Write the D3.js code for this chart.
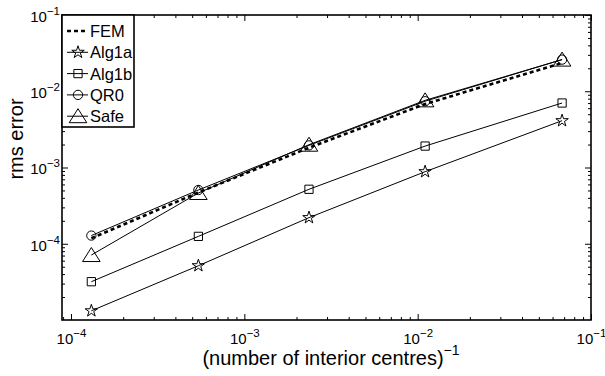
<!DOCTYPE html>
<html><head><meta charset="utf-8">
<script src="https://cdn.jsdelivr.net/npm/d3@7"></script>
<style>body{margin:0;background:#fff}svg{display:block;font-family:"Liberation Sans",Arial,sans-serif}</style>
</head><body>
<svg id="chart" width="605" height="376"></svg>
<script>
// ---- data ----
const xValues = [1.31e-4, 5.43e-4, 2.36e-3, 1.104e-2, 6.81e-2];
const femValues = [1.18e-4, 4.7e-4, 1.82e-3, 6.8e-3, 2.35e-2];
const alg1aValues = [1.32e-5, 5.15e-5, 2.20e-4, 8.81e-4, 4.11e-3];
const alg1bValues = [3.18e-5, 1.25e-4, 5.18e-4, 1.91e-3, 7.01e-3];
const qr0Values = [1.28e-4, 5.07e-4, 1.95e-3, 7.4e-3, 2.6e-2];
const safeValues = [7.11e-5, 4.63e-4, 1.99e-3, 7.6e-3, 2.6e-2];
const seriesNames = ["FEM", "Alg1a", "Alg1b", "QR0", "Safe"];
const xTickExps = [-4, -3, -2, -1];
const yTickExps = [-4, -3, -2, -1];
const xLabel = "(number of interior centres)";
const yLabel = "rms error";

const svg = d3.select("#chart");
const L = 62, R = 591, T = 15, B = 320;
const x = d3.scaleLog().domain([8.87e-5, 1e-1]).range([L, R]);
const y = d3.scaleLog().domain([1e-5, 1e-1]).range([B, T]);

function minors(lo, hi) {
  const out = [];
  for (let e = lo; e < hi; e++) for (let m = 2; m <= 9; m++) out.push(m * Math.pow(10, e));
  return out;
}
const xMin = minors(-5, -1).filter(v => v >= x.domain()[0] && v <= x.domain()[1]);
const yMin = minors(-5, -1).filter(v => v >= y.domain()[0] && v <= y.domain()[1]);
const xMaj = xTickExps.map(e => Math.pow(10, e));
const yMaj = yTickExps.map(e => Math.pow(10, e));

function styleAxis(g) {
  g.select(".domain").remove();
  g.selectAll("line").attr("stroke", "#000").attr("stroke-width", 1);
}
// minor ticks
svg.append("g").attr("transform", `translate(0,${B})`).call(d3.axisBottom(x).tickValues(xMin).tickSize(-3).tickFormat("")).call(styleAxis);
svg.append("g").attr("transform", `translate(0,${T})`).call(d3.axisTop(x).tickValues(xMin).tickSize(-3).tickFormat("")).call(styleAxis);
svg.append("g").attr("transform", `translate(${L},0)`).call(d3.axisLeft(y).tickValues(yMin).tickSize(-3).tickFormat("")).call(styleAxis);
svg.append("g").attr("transform", `translate(${R},0)`).call(d3.axisRight(y).tickValues(yMin).tickSize(-3).tickFormat("")).call(styleAxis);
// major ticks
const gx = svg.append("g").attr("transform", `translate(0,${B})`).call(d3.axisBottom(x).tickValues(xMaj).tickSize(-6)).call(styleAxis);
svg.append("g").attr("transform", `translate(0,${T})`).call(d3.axisTop(x).tickValues(xMaj).tickSize(-6).tickFormat("")).call(styleAxis);
const gy = svg.append("g").attr("transform", `translate(${L},0)`).call(d3.axisLeft(y).tickValues(yMaj).tickSize(-6)).call(styleAxis);
svg.append("g").attr("transform", `translate(${R},0)`).call(d3.axisRight(y).tickValues(yMaj).tickSize(-6).tickFormat("")).call(styleAxis);

function supLabel(sel) {
  sel.each(function(d) {
    const t = d3.select(this);
    const e = Math.round(Math.log10(d));
    t.text(null).attr("font-size", 15).attr("fill", "#000").attr("font-family", null);
    t.append("tspan").text("10");
    t.append("tspan").attr("font-size", 11.5).attr("dy", "-0.6em").text("\u2212" + Math.abs(e));
  });
}
gx.selectAll("text").call(supLabel).attr("dy", null).attr("y", 24).attr("text-anchor", "middle");
gy.selectAll("text").call(supLabel).attr("dy", "0.42em").attr("x", -2).attr("text-anchor", "end");

// box
svg.append("rect").attr("x", L).attr("y", T).attr("width", R - L).attr("height", B - T)
  .attr("fill", "none").attr("stroke", "#000").attr("stroke-width", 1.6);

// series
const line = d3.line().x((d, i) => x(xValues[i])).y(d => y(d));
const starPath = d3.symbol().type(d3.symbolStar).size(48)();
const tri = "M0,-7.5L8.8,6.5L-8.8,6.5Z";
const markerDefs = {
  Alg1a: { path: starPath },
  Alg1b: { path: d3.symbol().type(d3.symbolSquare).size(68)() },
  QR0: { path: d3.symbol().type(d3.symbolCircle).size(68)() },
  Safe: { path: tri }
};
const seriesData = { FEM: femValues, Alg1a: alg1aValues, Alg1b: alg1bValues, QR0: qr0Values, Safe: safeValues };

seriesNames.forEach(name => {
  const vals = seriesData[name];
  if (name === "FEM") {
    svg.append("path").attr("d", line(vals)).attr("fill", "none").attr("stroke", "#000")
      .attr("stroke-width", 2.6).attr("stroke-dasharray", "4,3");
  } else {
    svg.append("path").attr("d", line(vals)).attr("fill", "none").attr("stroke", "#000").attr("stroke-width", 1);
    svg.selectAll(null).data(vals).enter().append("path")
      .attr("d", markerDefs[name].path)
      .attr("transform", (d, i) => `translate(${x(xValues[i])},${y(d)})`)
      .attr("fill", "none").attr("stroke", "#000").attr("stroke-width", 1);
  }
});

// legend
const lg = svg.append("g");
lg.append("rect").attr("x", L).attr("y", T).attr("width", 72).attr("height", 112)
  .attr("fill", "#fff").attr("stroke", "#000").attr("stroke-width", 1.6);
seriesNames.forEach((name, i) => {
  const cy = 31 + i * 21.3;
  const ln = lg.append("line").attr("x1", 67).attr("x2", 88).attr("y1", cy).attr("y2", cy).attr("stroke", "#000");
  if (name === "FEM") ln.attr("stroke-width", 2.6).attr("stroke-dasharray", "4,3");
  else {
    ln.attr("stroke-width", 1);
    lg.append("path").attr("d", markerDefs[name].path).attr("transform", `translate(78,${cy})`)
      .attr("fill", "none").attr("stroke", "#000");
  }
  lg.append("text").attr("x", 90).attr("y", cy).attr("dy", "0.36em").attr("font-size", 16.5).text(name);
});

// axis labels
const xl = svg.append("text").attr("x", 331).attr("y", 365).attr("text-anchor", "middle").attr("font-size", 20);
xl.append("tspan").text(xLabel);
xl.append("tspan").attr("font-size", 14).attr("dy", "-0.75em").text("\u22121");
svg.append("text").attr("transform", "translate(23,139) rotate(-90)").attr("text-anchor", "middle")
  .attr("font-size", 20).text(yLabel);
</script>
</body></html>
